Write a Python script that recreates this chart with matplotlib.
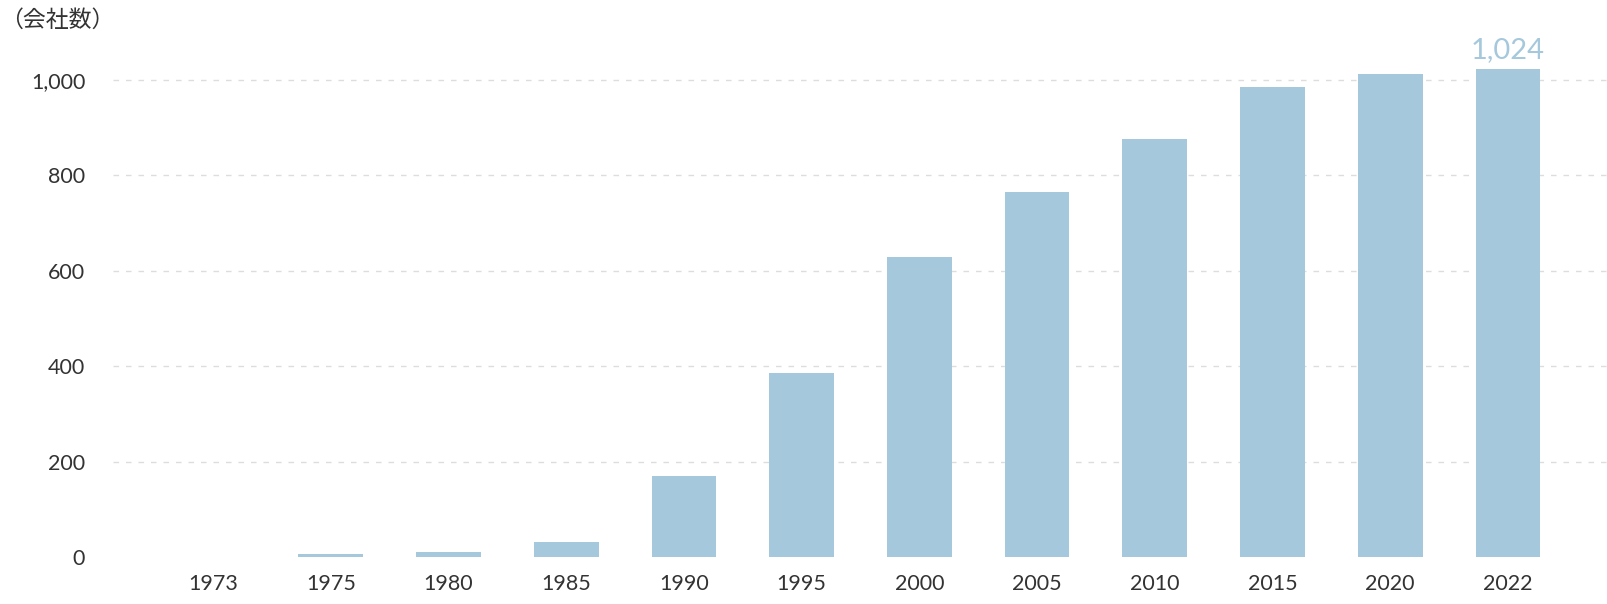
import matplotlib
matplotlib.use("Agg")
import matplotlib.pyplot as plt

years = ["1973", "1975", "1980", "1985", "1990", "1995", "2000", "2005", "2010", "2015", "2020", "2022"]
companies = [0, 6, 10, 32, 170, 385, 628, 765, 877, 985, 1013, 1024]
yticks = [0, 200, 400, 600, 800, 1000]
ytick_labels = ["0", "200", "400", "600", "800", "1,000"]
unit_label = "（会社数）"
highlight_label = "1,024"

bar_color = "#a5c8dc"
text_color = "#333333"

plt.rcParams['font.family'] = ['Lato', 'Noto Sans CJK JP', 'DejaVu Sans']

fig = plt.figure(figsize=(16.08, 6.04), dpi=100)
bottom = (604 - 557) / 604
h1000 = (557 - 80) / 604
ax = fig.add_axes([113 / 1608, bottom, 1 - 113 / 1608, h1000 * 1.1])

x = list(range(len(years)))
ax.bar(x, companies, width=0.55, color=bar_color, linewidth=0, zorder=3)
ax.set_xlim(-0.85, len(years) - 1 + 0.85)
ax.set_ylim(0, 1100)

ax.set_xticks(x)
ax.set_xticklabels(years, fontsize=15.5, color=text_color)
ax.set_yticks(yticks)
ax.set_yticklabels(ytick_labels, fontsize=15.5, color=text_color)
ax.tick_params(axis='both', length=0)
ax.tick_params(axis='y', pad=20)
ax.tick_params(axis='x', pad=12)

for yv in yticks[1:]:
    ax.axhline(yv, color="#dddddd", linestyle=(0, (4, 5)), linewidth=1, zorder=1)

for s in ax.spines.values():
    s.set_visible(False)

ax.text(x[-1], companies[-1] + 12, highlight_label, ha='center', va='bottom',
        fontsize=21, color=bar_color)

fig.text(0.0, 1 - 20 / 604, unit_label, fontsize=16.5, color=text_color, ha='left', va='center')

fig.savefig("out.png", dpi=100)
